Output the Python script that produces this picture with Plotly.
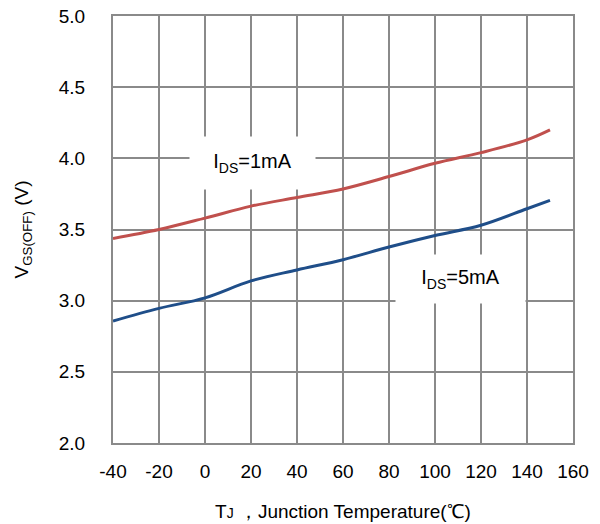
import plotly.graph_objects as go

temps = [-40, -20, 0, 20, 40, 60, 80, 100, 120, 140, 150]
vgs_1ma = [3.437, 3.50, 3.58, 3.664, 3.725, 3.785, 3.872, 3.965, 4.04, 4.13, 4.2]
vgs_5ma = [2.857, 2.946, 3.02, 3.139, 3.216, 3.288, 3.377, 3.458, 3.53, 3.646, 3.704]
x_ticks = [-40, -20, 0, 20, 40, 60, 80, 100, 120, 140, 160]
y_ticks = [2.0, 2.5, 3.0, 3.5, 4.0, 4.5, 5.0]

FONT = "Liberation Sans, Arial, sans-serif"
GRID = "#8a8a8a"

fig = go.Figure()
fig.add_trace(go.Scatter(x=temps, y=vgs_1ma, mode="lines",
                         line=dict(color="#C0504D", width=3, shape="spline", smoothing=1.0),
                         showlegend=False, hoverinfo="skip"))
fig.add_trace(go.Scatter(x=temps, y=vgs_5ma, mode="lines",
                         line=dict(color="#1F4E89", width=3, shape="spline", smoothing=1.0),
                         showlegend=False, hoverinfo="skip"))

fig.add_annotation(x=20.7, y=3.97, xref="x", yref="y",
                   text="I<sub>DS</sub>=1mA", showarrow=False,
                   bgcolor="white", width=123, height=50, borderpad=1,
                   font=dict(family=FONT, size=20, color="black"))
fig.add_annotation(x=110.9, y=3.15, xref="x", yref="y",
                   text="I<sub>DS</sub>=5mA", showarrow=False,
                   bgcolor="white", width=127, height=46, borderpad=1,
                   font=dict(family=FONT, size=20, color="black"))

fig.update_layout(
    width=600, height=524,
    margin=dict(l=113, r=27, t=16, b=81),
    paper_bgcolor="white", plot_bgcolor="white",
    font=dict(family=FONT, size=19, color="black"),
)
fig.update_xaxes(range=[-40, 160], tickvals=x_ticks, ticktext=[str(v) for v in x_ticks],
                 showgrid=True, gridcolor=GRID, gridwidth=2,
                 showline=True, linecolor=GRID, linewidth=2, mirror=True,
                 zeroline=False, ticks="", ticklabelstandoff=10,
                 ticklabeloverflow="allow", automargin=False,
                 title=dict(text="T<span style='font-size:14px'>J</span> ，Junction Temperature(℃)",
                            font=dict(family=FONT, size=19), standoff=24))
fig.update_yaxes(range=[2.0, 5.0], tickvals=y_ticks, ticktext=[f"{v:.1f}" for v in y_ticks],
                 showgrid=True, gridcolor=GRID, gridwidth=2,
                 showline=True, linecolor=GRID, linewidth=2, mirror=True,
                 zeroline=False, ticks="", ticklabelstandoff=22, automargin=False,
                 title=dict(text="V<sub>GS(OFF)</sub> (V)", font=dict(family=FONT, size=19), standoff=25))

fig.write_html("out.html", config={"displayModeBar": False, "staticPlot": True},
               post_script="document.body.style.margin='0';document.body.style.padding='0';")
